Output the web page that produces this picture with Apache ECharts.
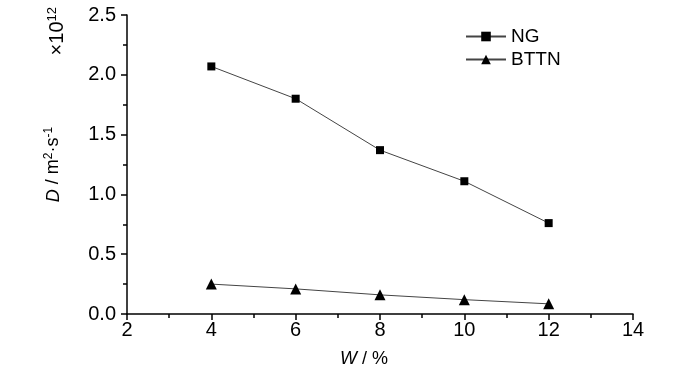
<!DOCTYPE html>
<html><head><meta charset="utf-8">
<script src="https://cdn.jsdelivr.net/npm/echarts@6/dist/echarts.min.js"></script>
<style>html,body{margin:0;padding:0;background:#fff}#c{width:700px;height:373px}</style>
</head><body><div id="c"></div>
<script>
var W = [4, 6, 8, 10, 12];
var NG = [2.07, 1.80, 1.37, 1.11, 0.76];
var BTTN = [0.25, 0.21, 0.16, 0.12, 0.085];
var FONT = '"Liberation Sans",Arial,sans-serif';
function pairs(xs, ys){ return xs.map(function(x,i){return [x, ys[i]];}); }
var chart = echarts.init(document.getElementById('c'));
chart.setOption({
  animation: false,
  textStyle: {fontFamily: FONT},
  grid: {left: 127, right: 67, top: 15, bottom: 59},
  legend: {
    left: 460, top: 22, orient: 'vertical', itemWidth: 40, itemHeight: 12, itemGap: 4,
    textStyle: {fontFamily: FONT, fontSize: 19, color: '#000'},
    data: ['NG', 'BTTN']
  },
  xAxis: {
    type: 'value', min: 2, max: 14, interval: 2,
    axisLine: {lineStyle: {color: '#000', width: 1.5}},
    axisTick: {inside: false, length: 6, lineStyle: {color:'#000', width: 1.5}},
    minorTick: {show: true, splitNumber: 2, length: 4, lineStyle: {color:'#000', width: 1.5}},
    splitLine: {show: false},
    axisLabel: {color: '#000', fontSize: 20, fontFamily: FONT, margin: 6},
    name: '{i|W} / %', nameLocation: 'middle', nameGap: 36,
    nameTextStyle: {color:'#000', fontSize: 18, fontFamily: FONT, padding: [0, 32, 0, 0],
      rich: {i: {fontStyle: 'italic', fontSize: 18, fontFamily: FONT, color:'#000'}}}
  },
  yAxis: {
    type: 'value', min: 0, max: 2.5, interval: 0.5,
    axisLine: {show: true, lineStyle: {color: '#000', width: 1.5}},
    axisTick: {show: true, inside: false, length: 6, lineStyle: {color:'#000', width: 1.5}},
    minorTick: {show: true, splitNumber: 2, length: 4, lineStyle: {color:'#000', width: 1.5}},
    splitLine: {show: false},
    axisLabel: {color: '#000', fontSize: 20, fontFamily: FONT, margin: 11,
      formatter: function(v){ return v.toFixed(1); }},
    name: '{i|D} / m{s|2}·s{s|-1}', nameLocation: 'middle', nameGap: 63, nameRotate: 90,
    nameTextStyle: {color:'#000', fontSize: 18, fontFamily: FONT,
      rich: {i: {fontStyle: 'italic', fontSize: 18, fontFamily: FONT, color:'#000'},
             s: {fontSize: 12, fontFamily: FONT, color:'#000', padding: [0,0,9,0]}}}
  },
  graphic: [{
    type: 'text', left: 46, top: 7, rotation: Math.PI/2,
    style: {text: '×10{s|12}', font: '20px ' + FONT, fill: '#000',
      rich: {s: {fontSize: 13, fontFamily: FONT, fill:'#000', padding: [0,0,9,0]}}}
  }],
  series: [{
    name: 'NG', type: 'line', data: pairs(W, NG), symbol: 'rect', symbolSize: 8,
    lineStyle: {color: '#444', width: 1}, itemStyle: {color: '#000'}
  }, {
    name: 'BTTN', type: 'line', data: pairs(W, BTTN), symbol: 'triangle', symbolSize: 11,
    lineStyle: {color: '#444', width: 1}, itemStyle: {color: '#000'}
  }]
});
</script></body></html>
